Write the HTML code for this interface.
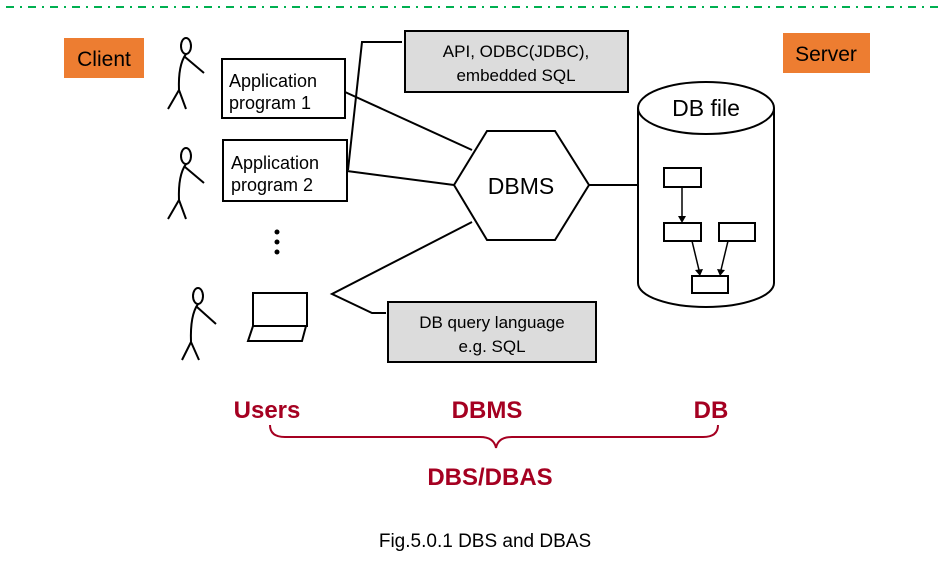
<!DOCTYPE html>
<html><head><meta charset="utf-8"><style>
html,body{margin:0;padding:0;background:#fff;}
svg{display:block;}
text{font-family:"Liberation Sans",sans-serif;}
</style></head><body>
<svg width="940" height="574" viewBox="0 0 940 574" xmlns="http://www.w3.org/2000/svg">
<line x1="6" y1="7" x2="940" y2="7" stroke="#00B050" stroke-width="2" stroke-dasharray="8,6,2,6"/>
<rect x="64" y="38" width="80" height="40" fill="#ED7D31"/>
<text x="104" y="66" font-size="21" text-anchor="middle">Client</text>
<rect x="783" y="33" width="87" height="40" fill="#ED7D31"/>
<text x="826" y="61" font-size="21" text-anchor="middle">Server</text>
<g fill="none" stroke="#000" stroke-width="2">
<!-- figure 1 -->
<ellipse cx="186" cy="46" rx="5" ry="8"/>
<path d="M186 54 Q178 65 179 90 M185 57 L204 73 M179 90 L168 109 M179 90 L186 109"/>
<!-- figure 2 -->
<ellipse cx="186" cy="156" rx="5" ry="8"/>
<path d="M186 164 Q178 175 179 200 M185 167 L204 183 M179 200 L168 219 M179 200 L186 219"/>
<!-- figure 3 -->
<ellipse cx="198" cy="296" rx="5" ry="8"/>
<path d="M198 304 Q190 315 191 342 M197 307 L216 324 M191 342 L182 360 M191 342 L199 360"/>
<!-- laptop -->
<rect x="253" y="293" width="54" height="33"/>
<path d="M253 326 L306 326 L302 341 L248 341 Z"/>
<!-- connectors -->
<path d="M402 42 L362 42 L348 170"/>
<line x1="345" y1="92" x2="472" y2="150"/>
<line x1="347" y1="171" x2="454" y2="185"/>
<path d="M472 222 L332 294 L372 313 L386 313"/>
<line x1="589" y1="185" x2="638" y2="185"/>
<!-- hexagon -->
<polygon points="454,185 487,131 555,131 589,185 555,240 487,240" fill="#fff"/>
<!-- cylinder -->
<path d="M638 108 L638 283 A68 24 0 0 0 774 283 L774 108" fill="#fff"/>
<ellipse cx="706" cy="108" rx="68" ry="26" fill="#fff"/>
<rect x="664" y="168" width="37" height="19"/>
<rect x="664" y="223" width="37" height="18"/>
<rect x="719" y="223" width="36" height="18"/>
<rect x="692" y="276" width="36" height="17"/>
<line x1="682" y1="187" x2="682" y2="217" stroke-width="1.5"/>
<line x1="692" y1="241" x2="699" y2="270" stroke-width="1.5"/>
<line x1="728" y1="241" x2="721" y2="270" stroke-width="1.5"/>
</g>
<g fill="#000">
<polygon points="678,216 686,216 682,223"/>
<polygon points="695,270 703,269 700,276"/>
<polygon points="717,269 725,270 720,276"/>
<circle cx="277" cy="232" r="2.5"/><circle cx="277" cy="242" r="2.5"/><circle cx="277" cy="252" r="2.5"/>
</g>
<rect x="222" y="59" width="123" height="59" fill="#fff" stroke="#000" stroke-width="2"/>
<text x="229" y="87" font-size="18">Application</text>
<text x="229" y="109" font-size="18">program 1</text>
<rect x="223" y="140" width="124" height="61" fill="#fff" stroke="#000" stroke-width="2"/>
<text x="231" y="169" font-size="18">Application</text>
<text x="231" y="191" font-size="18">program 2</text>
<rect x="405" y="31" width="223" height="61" fill="#DCDCDC" stroke="#000" stroke-width="2"/>
<text x="516" y="57" font-size="17" text-anchor="middle">API, ODBC(JDBC),</text>
<text x="516" y="81" font-size="17" text-anchor="middle">embedded SQL</text>
<rect x="388" y="302" width="208" height="60" fill="#DCDCDC" stroke="#000" stroke-width="2"/>
<text x="492" y="328" font-size="17" text-anchor="middle">DB query language</text>
<text x="492" y="352" font-size="17" text-anchor="middle">e.g. SQL</text>
<text x="521" y="194" font-size="23" text-anchor="middle">DBMS</text>
<text x="706" y="116" font-size="23" text-anchor="middle">DB file</text>
<g fill="#A50021" font-weight="bold" font-size="24" text-anchor="middle">
<text x="267" y="418">Users</text>
<text x="487" y="418">DBMS</text>
<text x="711" y="418">DB</text>
<text x="490" y="485">DBS/DBAS</text>
</g>
<path d="M270 425 Q270 437 285 437 L480 437 Q494 437 496 448 Q498 437 512 437 L703 437 Q718 437 718 425" fill="none" stroke="#A50021" stroke-width="2"/>
<text x="485" y="547" font-size="19" text-anchor="middle">Fig.5.0.1 DBS and DBAS</text>
</svg>
</body></html>
